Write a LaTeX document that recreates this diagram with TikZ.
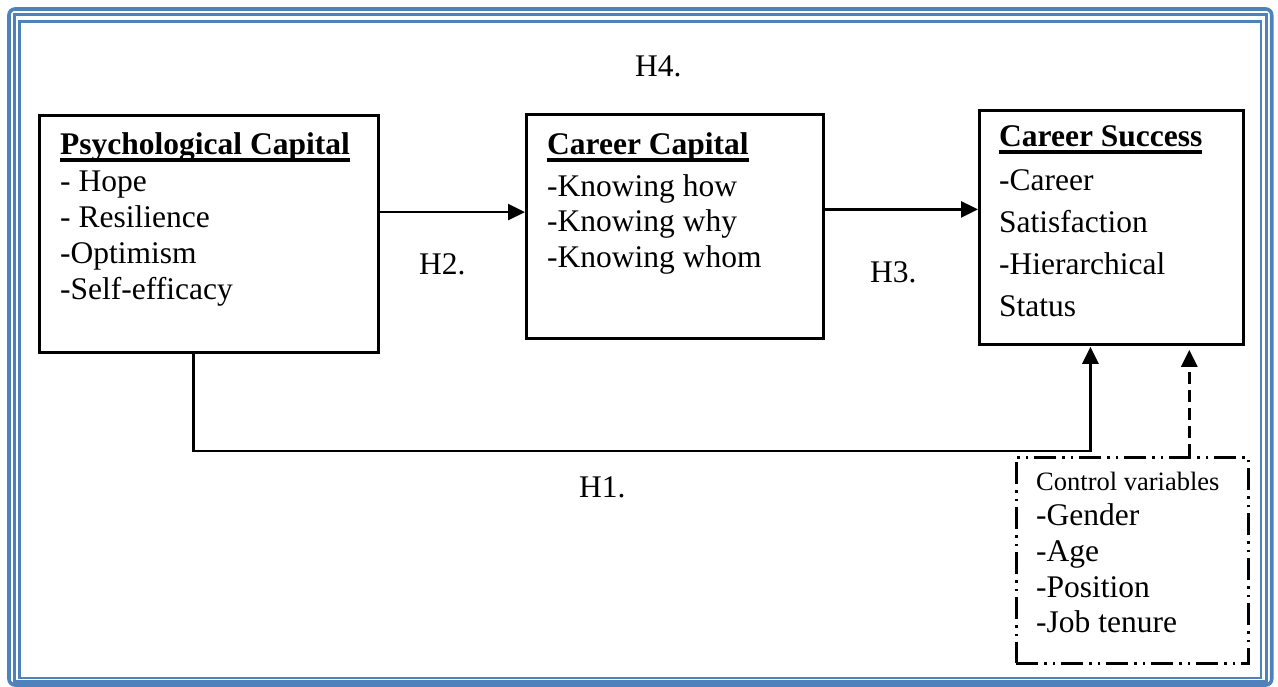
\documentclass[tikz,border=0pt]{standalone}
\usepackage{fontspec}
\setmainfont{Liberation Serif}
\usetikzlibrary{arrows.meta}
\definecolor{frameblue}{RGB}{79,129,189}
\newcommand\myul[1]{\setbox0\hbox{#1}\rlap{\rule[-7pt]{\wd0}{3.5pt}}\box0}
\begin{document}
\begin{tikzpicture}[x=1pt,y=-1pt,
  box/.style={draw, line width=2.8pt, rectangle, inner sep=0pt, anchor=north west},
  txt/.style={anchor=base west, inner sep=0pt, font=\fontsize{31.5}{36}\selectfont},
  conn/.style={line width=2.6pt, -{Triangle[length=17pt,width=16pt]}},
  dashconn/.style={conn, dash pattern=on 12pt off 6pt},
  ctlbox/.style={box, line width=2.6pt, dash pattern=on 22pt off 6pt on 2.5pt off 6pt on 2.5pt off 6pt},
  frame/.style={draw=frameblue}
]
\useasboundingbox (0,0) rectangle (1278,687);
% page border
\draw[frame, line width=3.6pt, rounded corners=6pt] (9,9) rectangle (1271.7,685);
\draw[frame, line width=3.2pt] (14.2,14.2) rectangle (1266.7,681.2);
\draw[frame, line width=2.2pt] (19.5,21.5) rectangle (1261.3,678.3);

% boxes
\node[box, minimum width=339pt, minimum height=237pt] (psy) at (38,114) {};
\node[box, minimum width=297pt, minimum height=224pt] (cc) at (525,113) {};
\node[box, minimum width=264pt, minimum height=234pt] (cs) at (978,109) {};
\node[ctlbox, minimum width=232pt, minimum height=206pt] (ctl) at (1015,456) {};

% texts
\node[txt] (psyt) at (60,155) {\vtop{\baselineskip=36.2pt
  \hbox{\myul{\bfseries Psychological Capital}}
  \hbox{- Hope}\hbox{- Resilience}\hbox{-Optimism}\hbox{-Self-efficacy}}};
\node[txt] (cct) at (547,155) {\vtop{\baselineskip=35.5pt
  \hbox{\myul{\bfseries Career Capital}}\vskip6pt
  \hbox{-Knowing how}\hbox{-Knowing why}\hbox{-Knowing whom}}};
\node[txt] (cst) at (999,147) {\vtop{\baselineskip=42pt
  \hbox{\myul{\bfseries Career Success}}\vskip1.7pt
  \hbox{-Career}\hbox{Satisfaction}\hbox{-Hierarchical}\hbox{Status}}};
\node[txt] (ctlt) at (1036,490) {\vtop{\baselineskip=35.7pt
  \hbox{\fontsize{26.5}{30}\selectfont Control variables}
  \hbox{-Gender}\hbox{-Age}\hbox{-Position}\hbox{-Job tenure}}};

% hypothesis labels
\node[txt] (h4) at (635,77) {H4.};
\node[txt] (h2) at (419,275) {H2.};
\node[txt] (h3) at (870,283) {H3.};
\node[txt] (h1) at (579,497) {H1.};

% connectors
\draw[conn] ([yshift=21.8pt]psy.east) -- ([yshift=21.8pt]psy.east -| cc.west);
\draw[conn] ([yshift=17pt]cc.east) -- ([yshift=17pt]cc.east -| cs.west);
\draw[conn, shorten >=1pt] ([xshift=-15.5pt]psy.south) -- ++(0,97) -| ([xshift=-21pt]cs.south);
\draw[dashconn, shorten >=4pt] ([xshift=57pt]ctl.north) -- ([xshift=57pt]ctl.north |- cs.south);
\end{tikzpicture}
\end{document}
